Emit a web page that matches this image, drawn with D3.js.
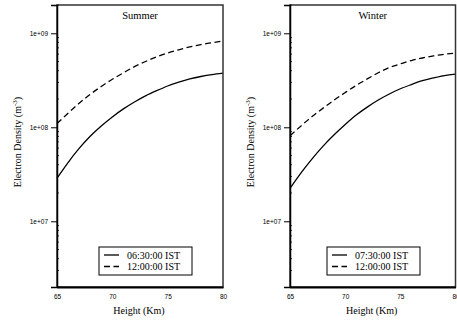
<!DOCTYPE html>
<html lang="en">
<head>
<meta charset="UTF-8">
<title>Electron Density</title>
<style>
  body { margin: 0; background: #fff; }
  svg { display: block; font-family: "Liberation Serif", "DejaVu Serif", serif; }
  .tick text { font-size: 6.5px; }
  .title { font-size: 10.5px; }
  .axis-label { font-size: 10px; }
  .legend text { font-size: 10px; }
</style>
</head>
<body>
<svg id="chart" width="457" height="320"></svg>
<script src="https://d3js.org/d3.v7.min.js"></script>
<script>
// heights in km
const heights = [65, 66, 67, 68, 69, 70, 71, 72, 73, 74, 75, 76, 77, 78, 79, 80];

// electron density, m^-3
const summerMorning = [2.88e7, 4.22e7, 5.96e7, 8.04e7, 1.035e8, 1.29e8, 1.57e8, 1.86e8,
                       2.16e8, 2.45e8, 2.75e8, 3.02e8, 3.27e8, 3.47e8, 3.63e8, 3.76e8];
const summerNoon    = [1.096e8, 1.413e8, 1.80e8, 2.24e8, 2.72e8, 3.24e8, 3.80e8, 4.42e8,
                       5.01e8, 5.62e8, 6.17e8, 6.68e8, 7.16e8, 7.59e8, 7.94e8, 8.32e8];
const winterMorning = [2.24e7, 3.27e7, 4.62e7, 6.31e7, 8.32e7, 1.07e8, 1.35e8, 1.64e8,
                       1.95e8, 2.26e8, 2.57e8, 2.85e8, 3.13e8, 3.35e8, 3.55e8, 3.67e8];
const winterNoon    = [8.13e7, 1.035e8, 1.30e8, 1.60e8, 1.95e8, 2.34e8, 2.79e8, 3.27e8,
                       3.80e8, 4.32e8, 4.73e8, 5.13e8, 5.46e8, 5.75e8, 5.98e8, 6.17e8];

const xTicks = [65, 70, 75, 80];
const yTicks = [1e7, 1e8, 1e9];
const yTickLabels = ["1e+07", "1e+08", "1e+09"];

const panels = [
    { title: "Summer", series: [summerMorning, summerNoon],
      names: ["06:30:00 IST", "12:00:00 IST"],
      left: 57, right: 223, legendX: 99, yTitleX: 17 },
    { title: "Winter", series: [winterMorning, winterNoon],
      names: ["07:30:00 IST", "12:00:00 IST"],
      left: 290, right: 455.5, legendX: 327, yTitleX: 250 }
];
const dashes = [null, "6,3.5"];

const plotTop = 5, plotBottom = 287;
const svg = d3.select("#chart");

panels.forEach(p => {
    const x = d3.scaleLinear().domain([65, 80]).range([p.left, p.right]);
    const y = d3.scaleLog().domain([2e6, 2e9]).range([plotBottom, plotTop]);
    const g = svg.append("g");

    // minor ticks, inside
    g.append("g")
        .selectAll("line")
        .data(y.ticks().filter(v => !yTicks.includes(v)))
        .join("line")
        .attr("x1", p.left).attr("x2", p.left + 2)
        .attr("y1", d => y(d)).attr("y2", d => y(d))
        .attr("stroke", "#000").attr("stroke-width", 0.8);

    // curves
    p.series.forEach((vals, i) => {
        g.append("path")
            .datum(heights.map((h, k) => [h, vals[k]]))
            .attr("fill", "none")
            .attr("stroke", "#000")
            .attr("stroke-width", 1.3)
            .attr("stroke-dasharray", dashes[i])
            .attr("d", d3.line().curve(d3.curveNatural).x(d => x(d[0])).y(d => y(d[1])));
    });

    // frame
    g.append("rect")
        .attr("x", p.left).attr("y", plotTop)
        .attr("width", p.right - p.left).attr("height", plotBottom - plotTop)
        .attr("fill", "none").attr("stroke", "#333").attr("stroke-width", 1.5);

    // y axis
    const ya = g.append("g")
        .attr("transform", `translate(${p.left},0)`)
        .call(d3.axisLeft(y).tickValues(yTicks).tickSize(6).tickPadding(3)
            .tickFormat((d, i) => yTickLabels[i]));
    ya.select(".domain").attr("stroke-width", 1.5);

    // x axis
    const xa = g.append("g")
        .attr("transform", `translate(0,${plotBottom})`)
        .call(d3.axisBottom(x).tickValues(xTicks).tickSize(0).tickPadding(7));
    xa.select(".domain").attr("stroke-width", 1.8);

    g.append("text").attr("class", "title")
        .attr("x", (p.left + p.right) / 2).attr("y", 19)
        .attr("text-anchor", "middle").text(p.title);

    g.append("text").attr("class", "axis-label")
        .attr("x", (p.left + p.right) / 2 - 1).attr("y", 314)
        .attr("text-anchor", "middle").text("Height (Km)");

    const yt = g.append("text").attr("class", "axis-label")
        .attr("transform", `translate(${p.yTitleX},${(plotTop + plotBottom) / 2 - 4}) rotate(-90)`)
        .attr("text-anchor", "middle").attr("dy", "0.35em");
    yt.append("tspan").text("Electron Density (m");
    yt.append("tspan").attr("dy", "-4").attr("font-size", "7px").text("-3");
    yt.append("tspan").attr("dy", "4").text(")");

    // legend
    const lg = g.append("g").attr("class", "legend")
        .attr("transform", `translate(${p.legendX},247)`);
    lg.append("rect").attr("width", 93).attr("height", 28)
        .attr("fill", "#fff").attr("stroke", "#000").attr("stroke-width", 1);
    p.names.forEach((name, i) => {
        lg.append("line")
            .attr("x1", 5).attr("x2", 20)
            .attr("y1", 8 + i * 11.5).attr("y2", 8 + i * 11.5)
            .attr("stroke", "#000").attr("stroke-width", 1.3)
            .attr("stroke-dasharray", dashes[i]);
        lg.append("text").attr("x", 28).attr("y", 8 + i * 11.5)
            .attr("dy", "0.35em").text(name);
    });
});
</script>
</body>
</html>
